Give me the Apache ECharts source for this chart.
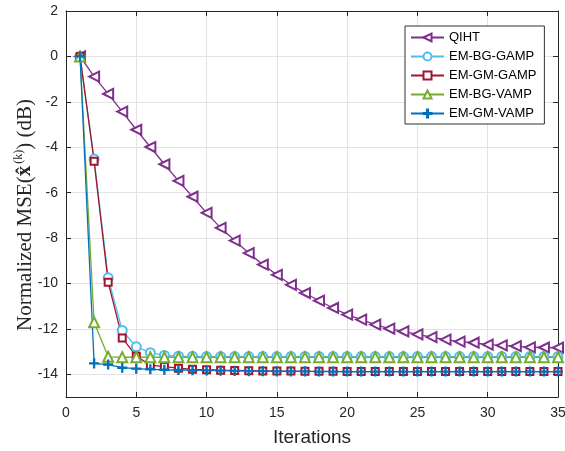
<!DOCTYPE html>
<html>
<head>
<meta charset="utf-8">
<script src="https://cdn.jsdelivr.net/npm/echarts@6/dist/echarts.min.js"></script>
<style>html,body{margin:0;padding:0;background:#fff}#c{width:565px;height:451px}</style>
</head>
<body>
<div id="c"></div>
<script>
const iterations = [1,2,3,4,5,6,7,8,9,10,11,12,13,14,15,16,17,18,19,20,21,22,23,24,25,26,27,28,29,30,31,32,33,34,35];
const qiht = [0,-0.89,-1.65,-2.43,-3.23,-3.99,-4.75,-5.48,-6.18,-6.89,-7.55,-8.11,-8.66,-9.17,-9.62,-10.06,-10.42,-10.76,-11.08,-11.37,-11.59,-11.81,-11.99,-12.11,-12.24,-12.36,-12.47,-12.56,-12.61,-12.69,-12.73,-12.76,-12.81,-12.82,-12.83];
const emBgGamp = [0,-4.52,-9.75,-12.07,-12.79,-13.05,-13.17,-13.2,-13.21,-13.22,-13.22,-13.22,-13.22,-13.22,-13.22,-13.22,-13.22,-13.22,-13.22,-13.22,-13.22,-13.22,-13.22,-13.22,-13.22,-13.22,-13.22,-13.22,-13.22,-13.22,-13.22,-13.22,-13.22,-13.22,-13.22];
const emGmGamp = [0,-4.62,-9.95,-12.4,-13.2,-13.6,-13.66,-13.73,-13.78,-13.8,-13.82,-13.83,-13.84,-13.85,-13.86,-13.86,-13.87,-13.87,-13.87,-13.88,-13.88,-13.88,-13.88,-13.88,-13.88,-13.88,-13.88,-13.88,-13.88,-13.88,-13.88,-13.88,-13.88,-13.88,-13.88];
const emBgVamp = [0,-11.71,-13.23,-13.25,-13.25,-13.25,-13.25,-13.25,-13.25,-13.25,-13.25,-13.25,-13.25,-13.25,-13.25,-13.25,-13.25,-13.25,-13.25,-13.25,-13.25,-13.25,-13.25,-13.25,-13.25,-13.25,-13.25,-13.25,-13.25,-13.25,-13.25,-13.25,-13.25,-13.25,-13.25];
const emGmVamp = [0,-13.52,-13.57,-13.71,-13.75,-13.78,-13.8,-13.81,-13.82,-13.83,-13.84,-13.85,-13.86,-13.86,-13.87,-13.87,-13.87,-13.88,-13.88,-13.88,-13.88,-13.88,-13.88,-13.88,-13.88,-13.88,-13.88,-13.88,-13.88,-13.88,-13.88,-13.88,-13.88,-13.88,-13.88];
const xTicks = [0,5,10,15,20,25,30,35];
const yTicks = [2,0,-2,-4,-6,-8,-10,-12,-14];
const seriesNames = ['QIHT','EM-BG-GAMP','EM-GM-GAMP','EM-BG-VAMP','EM-GM-VAMP'];
const yTitle = '{t|Normalized MSE(}{x|x̂}{s|(k)}{t|) (dB)}';

const pairs = ys => iterations.map((x,i)=>[x, ys[i]]);
const axisColor = '#262626';
const plusPath = 'path://M-1.4,-10H1.4V-1.4H10V1.4H1.4V10H-1.4V1.4H-10V-1.4H-1.4Z';

const chart = echarts.init(document.getElementById('c'), null, {renderer:'canvas'});
function mk(name, data, color, symbol, size, rotate){
  return {
    name, type:'line', data: pairs(data), xAxisIndex:0, yAxisIndex:0,
    symbol, symbolSize:size, symbolRotate: rotate||0, showAllSymbol:true,
    lineStyle:{color, width:1.3}, itemStyle:{color, borderColor:color, borderWidth:1.1},
    emphasis:{disabled:true}, animation:false
  };
}
const option = {
  backgroundColor:'#fff',
  animation:false,
  grid:{left:66, right:7, top:11, bottom:54, outerBoundsMode:'none', containLabel:false},
  graphic:[{
    type:'text', x:25, y:215, rotation:Math.PI/2, silent:true,
    style:{
      text:yTitle, align:'center', verticalAlign:'middle',
      rich:{
        t:{fontFamily:'Liberation Serif', fontSize:21, fill:axisColor},
        x:{fontFamily:'Liberation Serif', fontSize:21, fontWeight:'bold', fill:axisColor, padding:[0,2,0,0]},
        s:{fontFamily:'Liberation Serif', fontSize:12, fill:axisColor, padding:[0,0,12,0]}
      }
    }
  }],
  legend:{
    orient:'vertical', left:405, top:26, data:seriesNames,
    itemWidth:33, itemHeight:10, itemGap:6,
    padding:[5,8,4,5], backgroundColor:'#fff', borderColor:'#333', borderWidth:1,
    textStyle:{fontFamily:'Liberation Sans', fontSize:13, color:'#000'}
  },
  xAxis:[{
    type:'value', min:0, max:35, interval:5,
    name:'Iterations', nameLocation:'middle', nameGap:31,
    nameTextStyle:{fontFamily:'Liberation Sans', fontSize:19, color:axisColor},
    axisLine:{show:true, onZero:false, lineStyle:{color:axisColor}},
    axisTick:{show:true, inside:true, length:5, lineStyle:{color:axisColor}},
    axisLabel:{color:axisColor, fontFamily:'Liberation Sans', fontSize:14, margin:9},
    splitLine:{show:true, lineStyle:{color:'#e3e3e3', width:1}}
  },{
    type:'value', min:0, max:35, interval:5, position:'top',
    axisLine:{show:true, onZero:false, lineStyle:{color:axisColor}},
    axisTick:{show:true, inside:true, length:5, lineStyle:{color:axisColor}},
    axisLabel:{show:false}, splitLine:{show:false}
  }],
  yAxis:[{
    type:'value', min:-15, max:2,
    axisLine:{show:true, onZero:false, lineStyle:{color:axisColor}},
    axisTick:{show:true, inside:true, length:5, customValues:yTicks, lineStyle:{color:axisColor}},
    axisLabel:{show:true, customValues:yTicks, color:axisColor, fontFamily:'Liberation Sans', fontSize:14, margin:8},
    splitLine:{show:true, lineStyle:{color:'#e3e3e3', width:1}}
  }, {
    type:'value', min:-15, max:2, position:'right',
    axisLine:{show:true, onZero:false, lineStyle:{color:axisColor}},
    axisTick:{show:true, inside:true, length:5, customValues:yTicks, lineStyle:{color:axisColor}},
    axisLabel:{show:false, customValues:yTicks}, splitLine:{show:false}
  }],
  series:[
    mk('QIHT', qiht, '#7E2F8E', 'emptyTriangle', 10, 90),
    mk('EM-BG-GAMP', emBgGamp, '#4DBEEE', 'emptyCircle', 9),
    mk('EM-GM-GAMP', emGmGamp, '#A2142F', 'emptyRect', 7),
    mk('EM-BG-VAMP', emBgVamp, '#77AC30', 'emptyTriangle', 10),
    mk('EM-GM-VAMP', emGmVamp, '#0072BD', plusPath, 9)
  ]
};
chart.setOption(option);
</script>
</body>
</html>
